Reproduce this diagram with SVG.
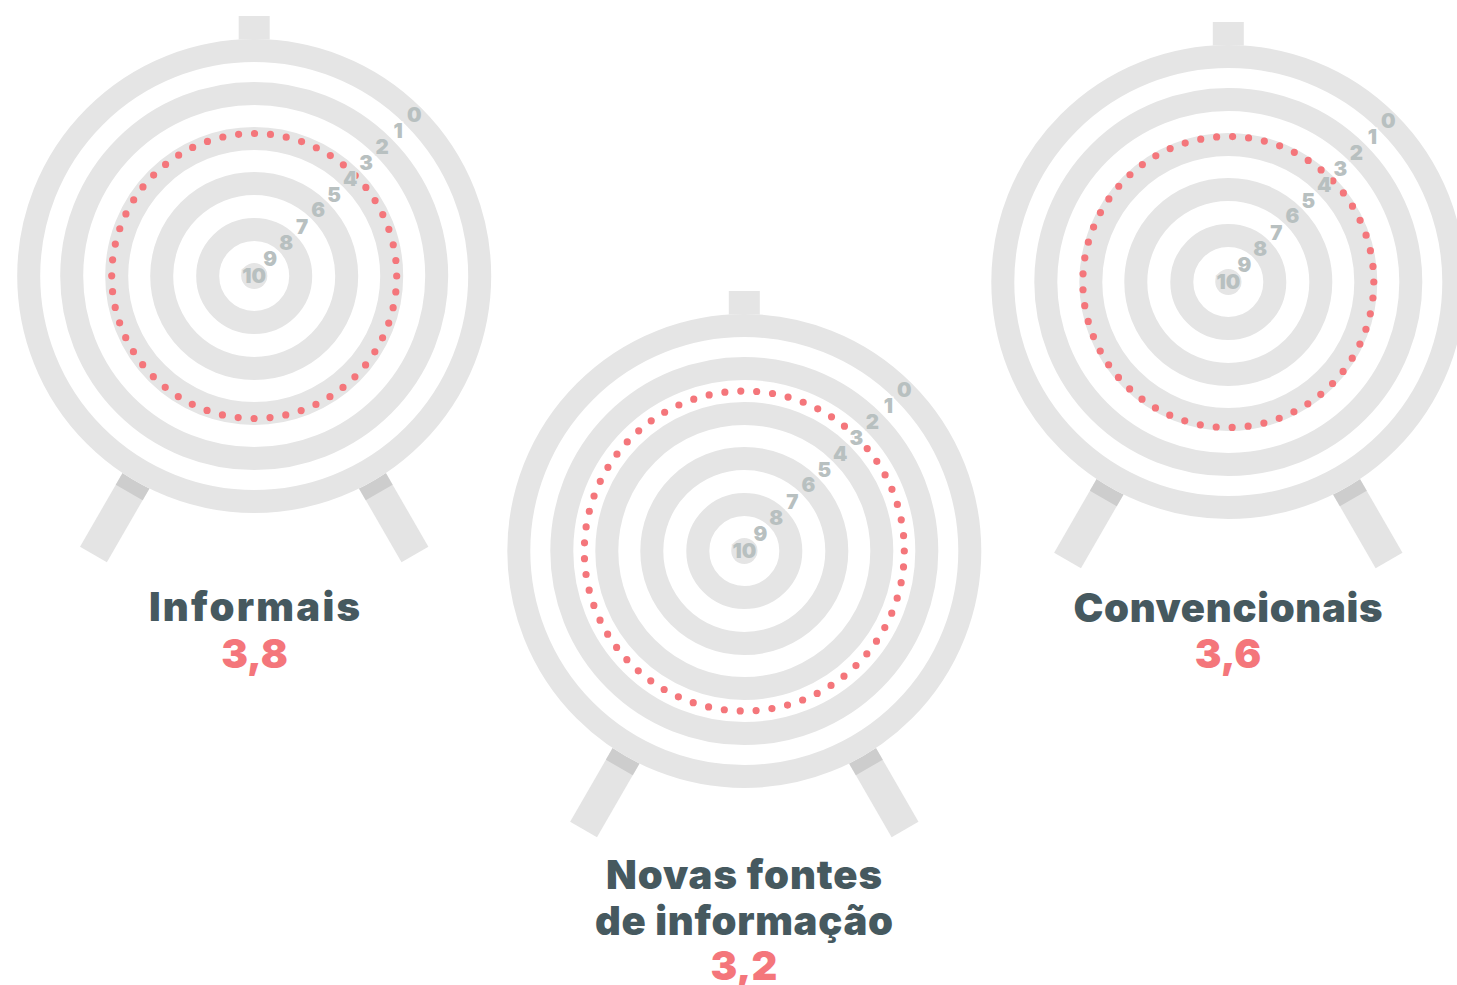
<svg xmlns="http://www.w3.org/2000/svg" width="1457" height="985" viewBox="0 0 1457 985">
<style>
.ring{fill:none;stroke:#e5e5e5;stroke-width:23}
.bull{fill:#e5e5e5}
.post{fill:#e5e5e5}
.leg{fill:#e4e4e4}
.shadow{fill:#cdcdcd}
.dots{fill:none;stroke:#f4767b;stroke-width:7.2;stroke-linecap:round}
.num{font-family:Inter,"Liberation Sans",sans-serif;font-weight:900;font-size:20.5px;fill:#b8c0c0;text-anchor:middle;paint-order:stroke;stroke-width:3px}
.on{stroke:#e5e5e5}
.off{stroke:#ffffff}
.title{font-family:Inter,"Liberation Sans",sans-serif;font-weight:900;font-size:40px;fill:#46595f;text-anchor:middle}
.value{font-family:Inter,"Liberation Sans",sans-serif;font-weight:900;font-size:40px;fill:#f4767b;text-anchor:middle}
</style>
<defs>
<g id="legs">
<g transform="rotate(30)"><rect class="leg" x="-15.5" y="226" width="31" height="95.5"/><rect class="shadow" x="-15.5" y="226" width="31" height="24"/></g>
<g transform="rotate(-30)"><rect class="leg" x="-15.5" y="226" width="31" height="95.5"/><rect class="shadow" x="-15.5" y="226" width="31" height="24"/></g>
<rect class="post" x="-15.5" y="-260" width="31" height="30"/>
<circle cx="0" cy="0" r="237" fill="#ffffff"/>
<circle class="ring" r="225.5"/>
<circle class="ring" r="182.5"/>
<circle class="ring" r="137.5"/>
<circle class="ring" r="92.5"/>
<circle class="ring" r="46.5"/>
<circle class="bull" r="13"/>
</g>
</defs>

<g id="target-informais" transform="translate(254.2,276)">
<use href="#legs"/>
<circle class="dots" r="142.5" stroke-dasharray="0 15.99"/>
<text class="num on" x="160" y="-154.5">0</text>
<text class="num off" x="144" y="-138.5">1</text>
<text class="num on" x="128" y="-122.3">2</text>
<text class="num off" x="112" y="-106">3</text>
<text class="num on" x="96" y="-90.4">4</text>
<text class="num off" x="80" y="-74.4">5</text>
<text class="num on" x="64" y="-58.6">6</text>
<text class="num off" x="48" y="-42">7</text>
<text class="num on" x="32" y="-26.4">8</text>
<text class="num off" x="16" y="-10.4">9</text>
<text class="num on" x="0" y="7.3">10</text>
</g>

<g id="target-novas" transform="translate(744.3,551)">
<use href="#legs"/>
<circle class="dots" r="160" stroke-dasharray="0 15.96"/>
<text class="num on" x="160" y="-154.5">0</text>
<text class="num off" x="144" y="-138.5">1</text>
<text class="num on" x="128" y="-122.3">2</text>
<text class="num off" x="112" y="-106">3</text>
<text class="num on" x="96" y="-90.4">4</text>
<text class="num off" x="80" y="-74.4">5</text>
<text class="num on" x="64" y="-58.6">6</text>
<text class="num off" x="48" y="-42">7</text>
<text class="num on" x="32" y="-26.4">8</text>
<text class="num off" x="16" y="-10.4">9</text>
<text class="num on" x="0" y="7.3">10</text>
</g>

<g id="target-convencionais" transform="translate(1228.3,282)">
<use href="#legs"/>
<circle class="dots" r="145.5" stroke-dasharray="0 16.04"/>
<text class="num on" x="160" y="-154.5">0</text>
<text class="num off" x="144" y="-138.5">1</text>
<text class="num on" x="128" y="-122.3">2</text>
<text class="num off" x="112" y="-106">3</text>
<text class="num on" x="96" y="-90.4">4</text>
<text class="num off" x="80" y="-74.4">5</text>
<text class="num on" x="64" y="-58.6">6</text>
<text class="num off" x="48" y="-42">7</text>
<text class="num on" x="32" y="-26.4">8</text>
<text class="num off" x="16" y="-10.4">9</text>
<text class="num on" x="0" y="7.3">10</text>
</g>

<g id="label-informais">
<text class="title" x="254.5" y="621" textLength="211">Informais</text>
<text class="value" x="254.5" y="668">3,8</text>
</g>
<g id="label-convencionais">
<text class="title" x="1228" y="621.5" textLength="309">Convencionais</text>
<text class="value" x="1228" y="667.5">3,6</text>
</g>
<g id="label-novas">
<text class="title" x="744" y="888.5" textLength="276">Novas fontes</text>
<text class="title" x="744" y="934.5" textLength="298">de informação</text>
<text class="value" x="744" y="980">3,2</text>
</g>
</svg>
